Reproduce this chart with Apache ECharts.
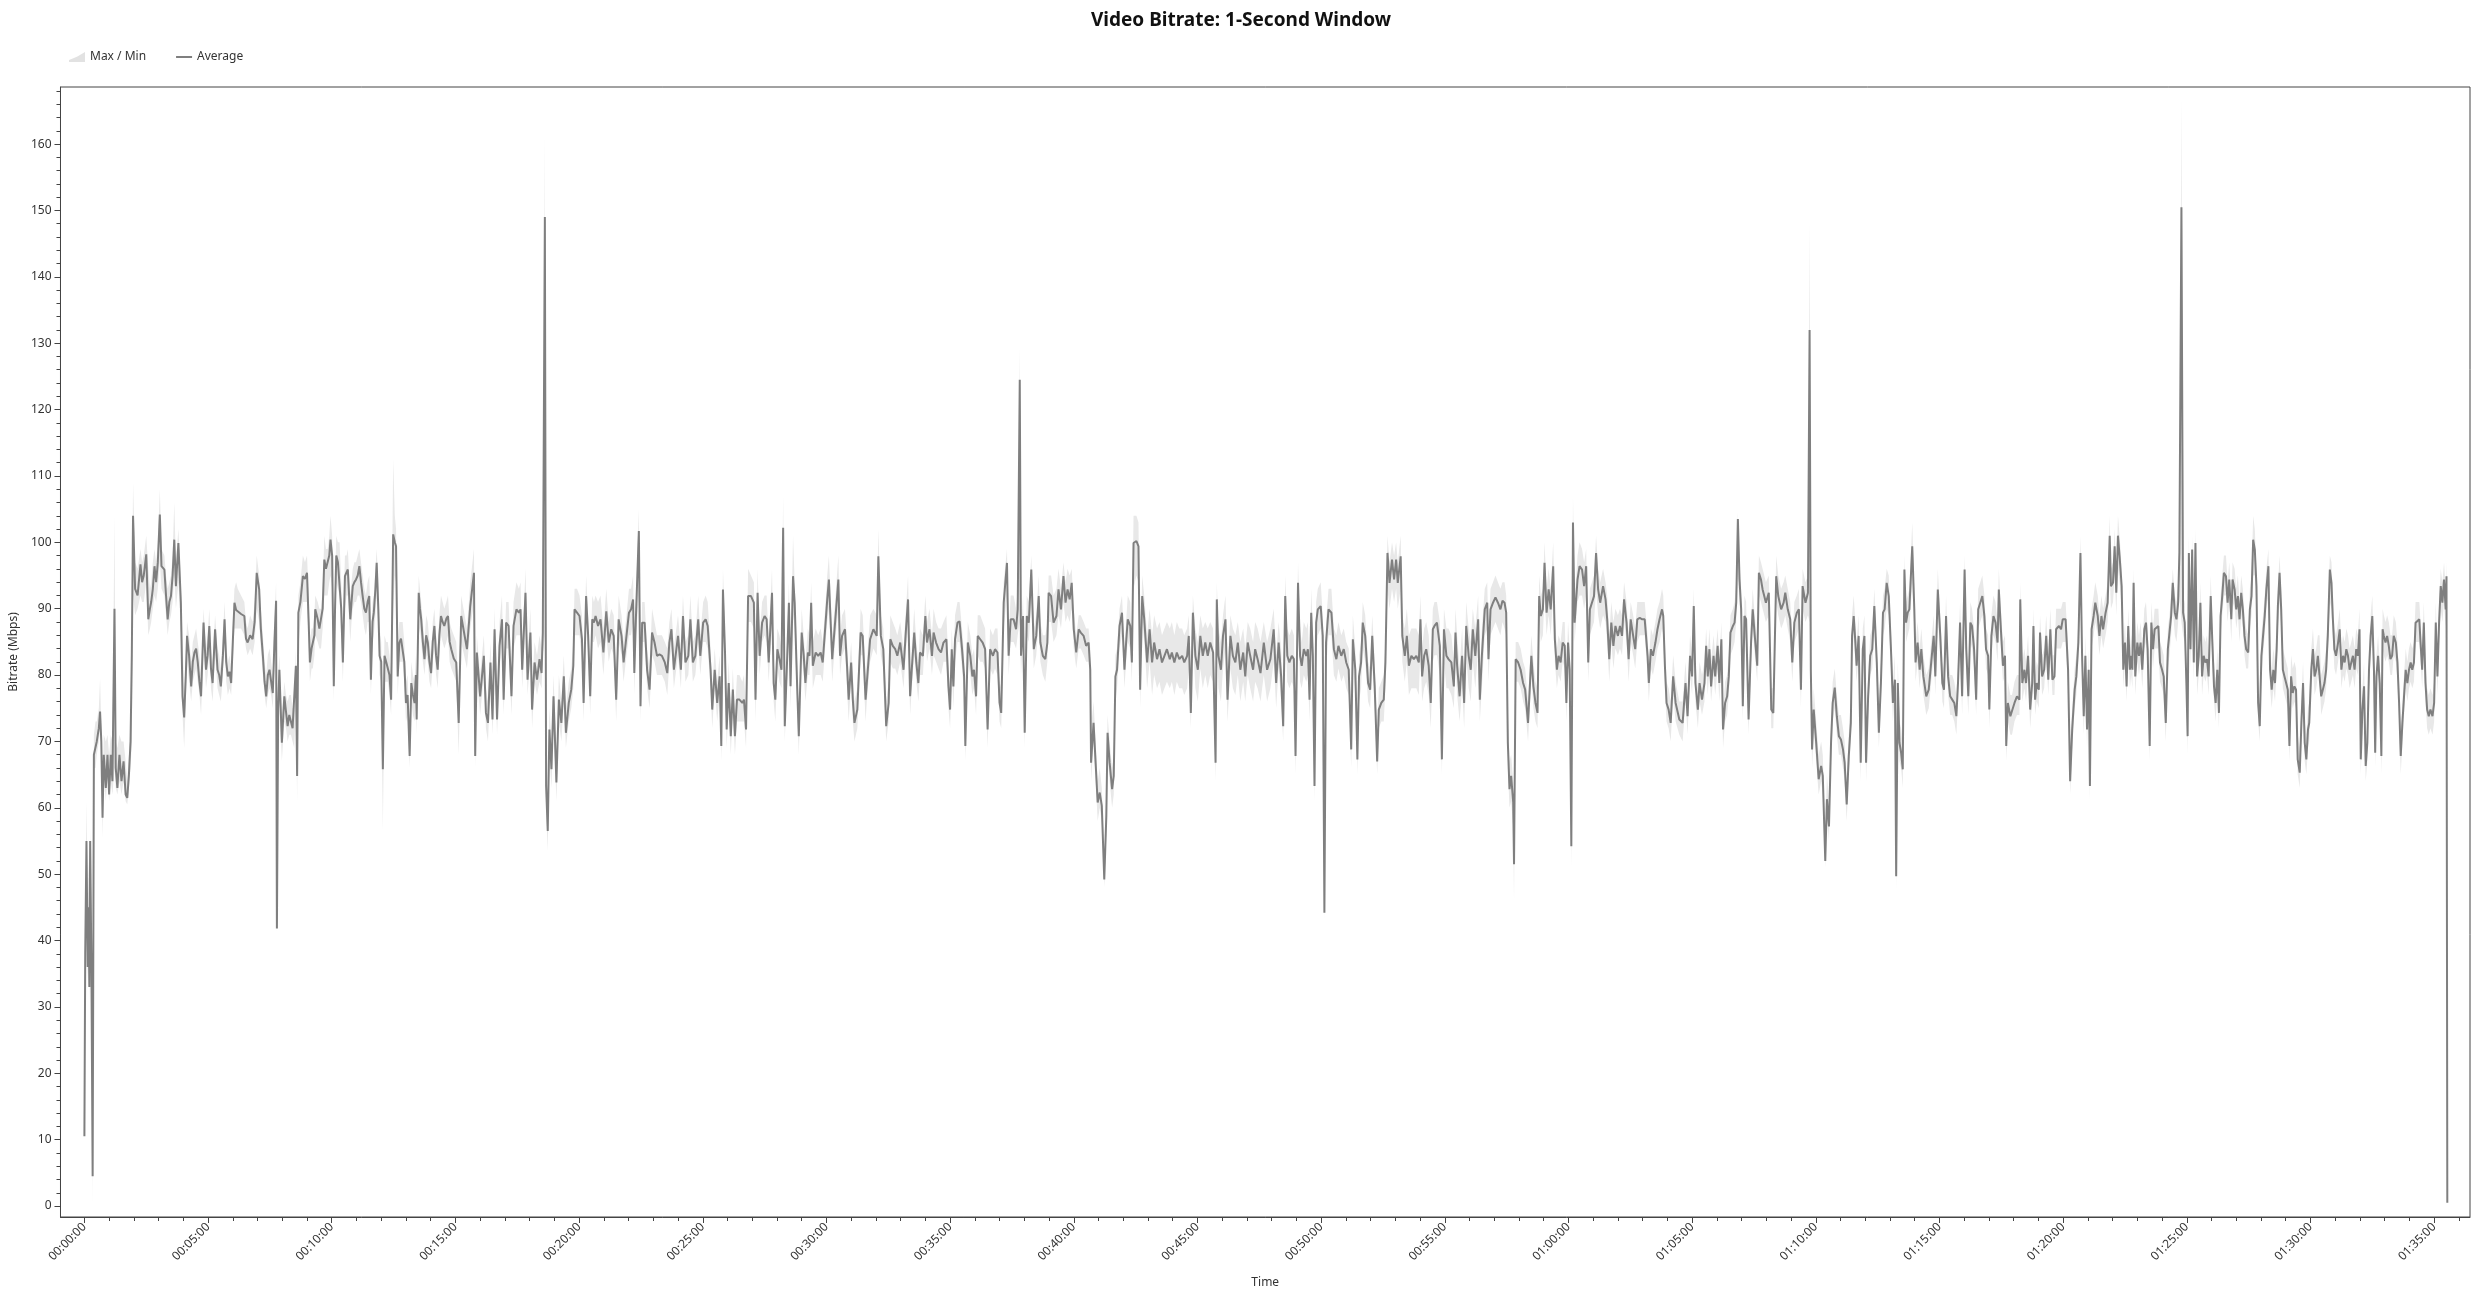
<!DOCTYPE html>
<html>
<head>
<meta charset="utf-8">
<script src="https://cdn.jsdelivr.net/npm/echarts@6/dist/echarts.min.js"></script>
<style>
html,body{margin:0;padding:0;background:#ffffff;}
#chart{width:2482px;height:1295px;}
</style>
</head>
<body>
<div id="chart"></div>
<script>
// ---- data: elapsed seconds, 1-second-window average, and the max / min band ----
const seconds = [
0,2,5,8,10,12,14,17,20,23, 27,30,35,38,41,44,47,52,56,60, 64,68,73,76,80,85,90,95,100,104,
108,112,115,118,123,129,136,140,144,150, 155,159,162,166,170,174,178,183,187,194, 198,202,206,210,214,218,222,228,234,238,
242,246,249,254,259,263,267,271,275,279, 283,289,295,299,303,307,311,317,323,327, 331,336,340,344,348,352,356,360,364,368,
372,380,388,392,396,402,408,413,418,424, 428,433,437,441,445,449,453,457,461,465, 467,470,473,479,485,489,493,497,501,505,
509,513,516,519,524,530,535,540,544,547, 551,554,558,560,566,570,574,578,582,586, 590,594,597,601,605,608,611,615,619,623,
627,632,636,639,645,648,651,655,659,663, 667,671,675,679,683,687,691,695,699,702, 706,709,713,716,720,724,728,732,736,740,
744,749,753,756,760,764,768,772,776,780, 784,789,793,797,801,804,806,811,814,817, 821,825,829,833,837,841,845,849,853,857,
861,865,869,873,878,882,886,890,896,902, 908,914,928,936,945,948,952,960,969,974, 979,985,990,995,1001,1007,1013,1017,1023,1029,
1036,1041,1048,1054,1058,1062,1070,1075,1082,1086, 1092,1098,1104,1109,1112,1117,1120,1124,1128,1133, 1138,1145,1151,1157,1163,1168,1175,1181,1186,1189,
1195,1201,1207,1211,1217,1222,1227,1232,1236,1240, 1246,1252,1259,1266,1272,1278,1284,1290,1296,1303, 1308,1315,1321,1326,1331,1334,1338,1345,1349,1353,
1359,1365,1371,1377,1383,1389,1395,1401,1408,1414, 1419,1424,1430,1434,1440,1447,1452,1458,1465,1470, 1476,1482,1489,1494,1501,1507,1512,1519,1523,1529,
1535,1541,1545,1549,1554,1558,1563,1568,1573,1578, 1583,1589,1596,1600,1605,1610,1617,1624,1628,1633, 1638,1644,1650,1655,1660,1668,1672,1676,1681,1686,
1691,1695,1699,1705,1709,1713,1719,1723,1729,1733, 1740,1745,1749,1755,1759,1763,1767,1774,1780,1786, 1791,1798,1802,1806,1810,1814,1821,1829,1833,1838,
1845,1850,1854,1860,1864,1868,1875,1883,1888,1895,
1898,1906,1914,1922,1926,1932,1938,1945,1951,1955, 1961,1967,1972,1979,1987,1993,1998,2003,2007,2013, 2018,2023,2027,2034,2040,2044,2050,2056,2060,2066,
2072,2078,2084,2091,2096,2100,2104,2108,2112,2118, 2123,2129,2134,2137,2143,2149,2154,2158,2163,2167, 2173,2179,2185,2191,2197,2204,2209,2215,2220,2224,
2230,2238,2242,2247,2254,2260,2264,2269,2272,2277, 2281,2286,2291,2297,2303,2309,2315,2319,2325,2331, 2336,2339,2345,2351,2358,2363,2369,2375,2380,2385,
2390,2395,2400,2406,2412,2417,2424,2430,2436,2440, 2442,2448,2453,2458,2463,2468,2474,2479,2482,2487, 2493,2497,2501,2505,2511,2517,2523,2527,2531,2537,
2541,2545,2552,2557,2561,2566,2571,2578,2584,2590, 2595,2602,2608,2614,2620,2626,2633,2638,2644,2650, 2656,2663,2668,2675,2679,2684,2689,2695,2701,2707,
2713,2719,2725,2731,2738,2744,2747,2751,2757,2762, 2768,2773,2780,2786,2792,2798,2804,2811,2816,2822, 2828,2835,2840,2846,2853,2861,2869,2877,2885,2891,
2897,2903,2908,2913,2918,2923,2929,2934,2938,2944, 2949,2953,2958,2964,2968,2972,2976,2980,2984,2988, 2992,2999,3004,3008,3012,3018,3025,3031,3037,3042,
3049,3055,3061,3067,3073,3077,3083,3088,3092,3097, 3101,3107,3114,3119,3124,3130,3136,3140,3146,3152, 3156,3161,3166,3172,3177,3182,3186,3193,3197,3203,
3208,3213,3219,3225,3231,3237,3241,3245,3250,3255, 3261,3266,3271,3275,3281,3288,3293,3298,3304,3309, 3316,3322,3326,3330,3336,3342,3347,3352,3358,3363,
3368,3374,3381,3385,3390,3397,3403,3406,3411,3417, 3423,3429,3435,3440,3445,3449,3453,3457,3461,3466, 3468,3472,3478,3484,3490,3495,3502,3506,3510,3515,
3520,3525,3529,3533,3538,3542,3547,3552,3557,3563, 3567,3572,3576,3581,3586,3591,3595,3599,3603,3607, 3611,3615,3622,3627,3633,3638,3643,3648,3652,3657,
3662,3667,3672,3677,3684,3690,3694,3699,3704,3709, 3714,3720,3725,3730,3735,3741,3746,3751,3757,3762, 3767,3773,3779,3785,3792,3795,3800,3805,3811,3816,
3821,3827,3830,3834,3838,3843,3848,3854,3860,3869,
3877,3884,3889,3895,3900,3904,3908,3914,3918,3924, 3930,3934,3938,3942,3946,3952,3956,3962,3966,3971, 3975,3980,3985,3989,3993,3999,4003,4007,4011,4015,
4019,4023,4027,4031,4037,4043,4047,4052,4058,4062, 4067,4071,4075,4079,4086,4092,4097,4104,4109,4116, 4122,4126,4132,4138,4143,4148,4154,4159,4164,4168,
4175,4181,4185,4188,4191,4195,4201,4207,4213,4217, 4223,4227,4232,4237,4241,4246,4251,4256,4261,4266, 4270,4275,4280,4285,4288,4292,4296,4299,4304,4309,
4314,4318,4322,4327,4332,4337,4342,4348,4353,4358, 4363,4367,4372,4377,4383,4387,4392,4395,4399,4403, 4407,4411,4415,4419,4423,4427,4434,4439,4442,4447,
4452,4456,4461,4468,4474,4480,4486,4490,4496,4502, 4507,4511,4516,4521,4526,4531,4536,4541,4545,4550, 4555,4561,4565,4570,4575,4579,4584,4589,4594,4599,
4604,4609,4613,4618,4621,4626,4631,4636,4641,4644, 4649,4654,4659,4662,4666,4672,4676,4682,4688,4694, 4696,4701,4706,4710,4715,4720,4725,4728,4732,4736,
4741,4744,4749,4754,4759,4764,4769,4774,4779,4783, 4790,4795,4799,4806,4812,4817,4822,4828,4832,4837,
4842,4846,4850,4854,4858,4862,4865,4869,4874,4878, 4884,4888,4893,4897,4903,4908,4913,4916,4921,4925, 4929,4933,4937,4942,4946,4950,4954,4958,4962,4965,
4968,4971,4975,4980,4984,4988,4992,4997,5001,5005, 5010,5014,5018,5022,5026,5031,5035,5040,5044,5049, 5054,5058,5062,5066,5071,5075,5079,5082,5087,5091,
5095,5099,5102,5105,5109,5113,5117,5121,5125,5129, 5133,5137,5141,5145,5149,5153,5158,5162,5166,5170, 5174,5178,5182,5186,5190,5195,5199,5203,5208,5211,
5216,5220,5224,5228,5232,5236,5240,5244,5249,5253, 5257,5261,5265,5269,5273,5277,5281,5285,5289,5293, 5298,5302,5306,5310,5314,5318,5321,5325,5329,5333,
5337,5341,5345,5349,5353,5357,5361,5365,5369,5374, 5378,5382,5386,5390,5394,5397,5402,5406,5410,5414, 5418,5422,5426,5430,5434,5438,5442,5447,5451,5454,
5458,5462,5467,5471,5475,5479,5483,5487,5491,5495, 5499,5503,5507,5511,5515,5519,5522,5526,5530,5534, 5538,5542,5546,5550,5554,5557,5560,5564,5568,5572,
5575,5578,5582,5586,5590,5594,5598,5602,5607,5611, 5615,5619,5623,5627,5631,5635,5639,5643,5647,5651, 5655,5659,5664,5667,5671,5675,5679,5683,5687,5691,
5696,5700,5704,5708,5712,5716,5720,5724,5728,5730, 5732
];

const average = [
10.5,38,55,36,45,33,55,36,4.5,68, 68,70,72,74.5,70,58.5,68,63,68,62, 68,64,90,66,63,68,64,67,62,61.5,
65,70,83,104,93,92,96.7,94,95,98.2, 88.4,90,91,93,96.4,94,96.9,104.2,96.4,95.9, 92,88.4,91,91.9,95,100.4,93.4,99.9,90.9,76.8,
73.6,80,85.9,82.9,78.3,82,83.4,84,81.9,79, 76.8,87.9,80.8,83,87.4,81,78.8,86.9,80.8,80, 78.3,83,88.4,82,79.8,80.5,78.8,85,90.9,89.8,
89.6,89.2,88.9,85.5,84.9,86,85.4,88,95.4,92.9, 87,82.9,79,76.8,80,80.8,79,77.3,85,91.2, 41.8,75,80.8,69.8,76.8,74.5,72.3,74,73.8,72,
71.8,81.4,64.8,89.4,91,94.9,94.5,95.4,88,81.9, 84,83.9,86,89.9,88.4,87,86.9,90,97.4,96, 95.9,98,100.4,98,78.3,90,98,97,96.9,90,
81.9,94.9,95.5,95.9,88.4,91,93.4,94,94.4,95, 96.4,94,91.9,90,89.4,91,91.9,79.3,88,89.4, 93,96.9,90,82.9,82,65.8,82.9,82,81.9,80,
76.3,101.2,100,99.4,79.8,84.9,85.5,85.4,82,75.8, 77,67.8,78.8,77,75.8,80,73.3,92.4,90,88.4, 85,82.4,86,84.9,82,80.3,85,87.4,83,80.8,
86,88.9,88,87.4,88.5,88.9,85,83.9,82.5,81.9, 72.8,88.9,83.9,90.4,95.4,67.8,83.4,76.8,82.9,74.3, 72.8,81.9,73.3,86.9,73.3,84.4,88.4,76.3,87.9,87.4,
76.8,87.4,89.9,89.4,89.9,80.8,92.4,79.3,86.4,74.8, 81.9,79.3,82.4,80.3,86.4,149,63.3,56.5,71.8,65.8, 76.8,63.8,76.3,72.8,79.8,71.3,75.8,77.8,81.4,89.9,
89.4,88.9,85.4,75.8,91.9,85.9,76.8,88.4,87.9,88.9, 87.4,88.4,83.4,89.6,84.9,86.9,85.9,76.3,88.4,85.9, 81.9,85.9,89.4,89.9,91.4,80.3,88.9,101.7,75.3,87.9,
87.9,80.8,77.8,86.4,84.9,82.9,83.1,82.9,81.9,80.3, 84.9,86.9,80.8,82.9,85.9,80.8,88.9,81.9,82.9,88.4, 81.9,82.9,88.4,82.9,87.9,88.4,87.4,80.8,74.8,80.8,
75.8,79.8,69.3,92.9,83.4,71.8,78.8,70.8,77.8,70.8, 76.3,76.3,75.8,76.3,71.8,91.9,91.9,90.9,76.3,92.4, 82.9,87.9,88.9,88.4,81.9,92.4,78.8,76.3,83.9,82.4,
80.8,102.2,72.3,82.9,90.9,78.3,94.9,90.9,78.3,70.8, 86.4,82.9,78.8,83.4,82.9,90.9,81.4,83.4,82.9,83.4, 81.9,87.9,91.4,94.4,88.4,82.4,87.9,94.4,82.9,85.9,
86.9,81.4,76.3,81.9,76.3,72.8,74.8,86.4,85.9,76.3,
78.8,85.4,86.9,85.9,97.9,85.9,83.9,72.3,75.8,85.4, 84.4,83.9,82.9,84.9,80.8,86.9,91.4,76.8,80.8,86.4, 81.9,78.8,83.4,82.9,88.9,84.9,86.9,82.9,86.4,84.9,
83.9,83.4,84.9,85.4,78.3,74.8,83.9,78.3,85.4,87.9, 88.1,83.9,79.8,69.3,84.9,82.9,79.8,80.8,76.8,85.9, 85.4,84.9,83.9,71.8,83.9,82.9,83.9,83.4,75.8,74.3,
90.9,96.9,82.9,88.4,88.4,86.9,89.9,124.5,82.9,88.9, 71.3,88.9,87.9,95.9,83.9,85.9,91.9,84.9,82.9,82.4, 84.9,92.4,91.9,87.9,88.9,92.9,89.9,94.9,90.9,92.9,
91.4,93.9,86.9,83.4,86.9,86.4,85.9,84.4,84.9,80.8, 66.8,72.8,66.8,60.8,62.3,60.3,49.2,58.8,71.3,66.8, 62.8,64.8,79.8,80.8,87.4,89.4,80.8,84.9,88.4,87.4,
81.9,99.9,100.2,99.4,77.8,91.9,88.4,81.9,86.9,81.9, 84.9,82.4,83.9,81.9,82.9,83.9,82.4,83.4,81.9,83.4, 82.4,82.9,81.9,82.9,85.9,74.3,89.4,82.9,80.8,85.9,
82.9,84.9,82.9,84.9,83.4,66.8,91.4,82.9,80.8,85.9, 88.4,76.3,85.9,82.9,81.9,84.9,80.8,83.4,79.8,84.9, 82.9,80.8,83.9,82.4,80.3,84.9,80.8,82.4,86.9,78.8,
84.9,79.8,72.3,91.9,82.9,81.9,82.9,82.4,67.8,93.9, 82.9,81.4,83.9,82.9,83.9,76.3,89.4,82.9,63.3,87.9, 89.9,90.4,85.9,44.2,84.9,89.9,89.4,83.9,82.4,84.4,
82.9,83.9,81.9,80.8,68.8,85.4,80.8,67.3,79.8,81.9, 87.9,85.9,78.8,77.8,85.9,78.3,67,74.8,75.8,76.3, 81.9,98.4,93.9,97.4,94.4,97.4,93.9,97.9,85.9,82.9,
85.9,81.4,82.9,82.4,82.9,81.9,88.4,79.8,82.9,83.9, 81.4,75.8,86.9,87.4,87.9,84.4,67.3,86.9,82.9,82.4, 81.9,78.3,86.4,81.4,76.8,82.9,75.8,87.4,82.9,80.8,
86.9,82.9,88.4,76.3,82.9,89.9,90.9,82.4,89.9,90.9, 91.7,90.9,89.9,91.2,90.9,89.4,69.8,62.8,64.8,60.8, 51.5,82.4,81.9,80.8,78.8,77.8,72.8,77.8,82.9,78.3,
75.8,74.3,91.9,88.9,89.9,96.9,89.4,92.9,89.9,96.4, 85.4,80.8,82.9,81.9,84.9,84.4,75.8,84.9,80.8,54.2, 103,87.9,94.4,96.4,95.9,93.4,96.4,81.9,89.9,90.9,
91.9,98.4,92.9,90.9,93.4,91.4,88.4,82.4,87.9,84.4, 87.4,85.9,87.4,85.9,91.4,87.9,82.4,88.4,85.9,83.9, 88.4,88.6,88.4,88.4,82.9,78.8,83.9,82.9,84.9,86.9,
88.4,89.9,88.9,81.4,75.8,74.8,72.8,79.8,75.8,73.3,
72.8,78.8,73.8,82.9,79.8,90.4,78.8,74.8,78.8,76.3, 78.8,84.4,79.8,83.9,78.3,82.9,79.8,84.4,78.8,85.4, 71.8,75.8,76.8,79.8,86.4,87.4,87.9,90.9,103.5,94.4,
89.9,75.3,88.9,88.4,73.3,84.9,89.9,85.9,81.4,95.4, 94.4,92.9,91.9,90.9,92.4,74.8,74.3,94.9,91.9,89.9, 90.9,92.4,89.9,88.4,81.9,87.9,89.4,89.9,77.8,93.4,
90.9,92.4,132,80.8,68.8,74.8,69.8,64.3,66.3,64.8, 52,61.3,57.2,69.8,75.8,78.1,73.8,70.8,70.3,68.8, 66.8,60.5,67.8,72.8,85.9,88.9,84.9,81.4,85.9,66.8,
83.9,85.9,66.8,76.8,82.9,83.9,90.4,81.9,71.3,78.8, 89.4,89.9,93.9,91.9,82.9,75.8,79.3,49.7,78.8,69.8, 68.3,65.8,95.9,87.9,89.4,89.9,99.4,89.9,81.9,84.9,
80.8,83.9,79.8,76.8,77.8,81.9,85.9,79.8,92.9,85.9, 78.8,77.8,88.9,79.8,76.8,76.3,75.8,73.8,78.8,87.9, 76.8,95.9,83.9,76.8,87.9,87.4,83.9,76.3,89.9,90.9,
91.9,88.9,83.9,82.9,74.8,85.9,88.9,87.9,84.9,92.9, 86.9,81.4,82.9,69.3,75.8,73.8,73.8,75.8,76.8,76.3, 91.4,78.8,80.8,78.8,82.9,74.8,78.8,87.4,76.3,78.8,
77.8,86.4,79.8,80.8,85.9,79.3,86.9,79.3,79.8,86.9, 87.4,86.9,88.4,88.4,80.8,64,71.8,77.8,79.8,84.9,
98.4,82.9,73.8,82.9,71.8,80.8,63.3,86.9,88.9,90.9, 88.9,85.9,88.9,86.9,89.4,90.9,101,93.4,93.9,99.4, 92.4,101,97.9,93.4,80.8,84.9,78.3,87.4,80.8,82.9,
80.8,93.9,79.8,84.9,82.9,84.9,80.8,86.9,87.9,83.9, 69.3,87.9,83.9,86.9,86.9,87.4,81.9,80.8,79.8,72.8, 83.9,86.4,88.9,93.9,89.4,88.4,90.9,98.4,150.5,89.4,
87.9,78.8,70.8,98.4,83.9,98.9,81.9,99.9,79.8,82.9, 90.9,79.8,82.9,81.9,82.4,79.8,91.9,84.9,78.3,75.8, 80.8,74.3,88.9,91.9,95.4,94.9,90.9,94.4,88.4,94.4,
92.9,89.9,91.9,88.4,92.4,89.9,85.9,83.9,83.4,89.9, 91.9,100.4,98.9,93.4,75.8,72.3,82.9,85.9,88.9,92.9, 96.4,80.8,77.8,80.8,78.8,83.9,90.4,95.4,89.9,80.8,
79.8,78.8,77.8,69.3,79.8,77.3,78.3,77.8,67.3,65.3, 72.8,78.8,69.8,67.3,71.8,72.8,80.8,83.9,79.8,80.8, 82.9,82.9,76.8,77.8,78.8,80.8,85.9,95.9,93.9,88.9,
83.9,82.9,84.9,86.9,80.8,82.9,81.9,83.9,82.9,80.8, 81.9,82.9,80.8,83.9,82.9,86.9,67.3,74.8,78.3,66.3, 69.8,80.8,85.9,88.9,80.8,68.3,79.8,82.9,78.8,67.8,
86.9,85.9,84.9,85.9,84.4,82.4,82.9,85.9,84.9,81.9, 75.8,67.8,72.8,76.8,80.8,78.8,80.8,81.9,80.8,81.9, 87.9,87.9,88.4,84.9,80.8,87.9,78.8,74.8,73.8,74.8,
73.8,75.8,87.9,79.8,87.9,93.4,90.9,94.4,89.9,94.9, 0.5
];

const bandLow = [
9,30,45,34,38,31,50,33,0,66, 66,68,70,72,68,55.5,65,61,65,61, 64,62,66,63,62,64,62,64,61,60.5,
63,66,70,92,89,90,92,91,91,94, 86,87,88,90,92,91,93,97,93,92, 89,86,88,89,91,95,90,94,87,74,
69,76,82,79,76,79,80,81,79,77, 74,84,78,80,84,78,76,83,78,77, 76,80,85,79,77,78,77,82,87,87,
87,87,86,84,83,84,83,85,90,88, 84,80,77,75,77,78,77,75,81,86, 41,72,76,67,73,72,70,71,71,70,
69,76,61,84,88,91,91,91,85,79, 81,81,83,86,85,84,84,87,92,92, 92,94,95,93,76,86,94,93,92,86,
79,90,92,92,85,88,90,91,91,92, 92,91,89,87,86,88,88,77,85,86, 89,92,87,80,79,56.5,79,79,79,77,
74,90,95,94,77,82,82,82,79,73, 74,66,76,74,73,77,71,86,87,85, 82,80,83,82,79,78,82,84,80,78,
83,86,85,84,85,86,82,81,80,79, 68,85,81,87,91,66,80,74,80,72, 70,79,71,83,71,81,85,74,84,84,
74,84,86,86,86,78,88,77,83,72, 79,77,79,78,83,86,60,53.5,68,63, 73,61,73,70,76,69,73,75,78,86,
86,86,82,73,88,83,74,85,85,86, 84,85,80,86,82,84,83,73,85,83, 79,83,86,86,88,77,86,92,73,85,
85,78,75,83,82,80,80,80,79,77, 82,84,78,80,83,78,86,79,80,85, 79,80,85,80,85,85,84,78,72,78,
73,77,67,88,80,69,76,68,75,68, 73,73,73,73,69,88,88,87,73,88, 80,85,86,85,79,88,76,73,81,79,
78,90,70,80,87,75,89,87,75,68, 83,80,76,80,80,87,78,80,80,80, 79,85,88,90,85,79,85,90,80,83,
84,78,73,79,73,70,72,83,83,73,
76,82,84,83,90,83,81,70,73,82, 81,81,80,82,78,84,87,74,78,83, 79,76,80,80,86,82,84,80,83,82,
81,80,82,82,75,72,81,75,82,85, 85,81,77,67,82,80,77,78,74,83, 82,82,81,69,81,80,81,80,73,72,
87,92,80,85,85,84,86,88,80,86, 69,86,85,91,81,83,88,82,80,79, 82,88,88,85,86,89,87,91,88,89,
88,90,84,81,84,84,83,82,82,78, 64,70,64,58,60,58,48,56,68,64, 60,62,76,78,84,86,78,82,85,84,
79,93,95,94,75,88,85,78,82,77, 80,78,79,77,78,79,78,79,77,79, 78,78,77,78,81,72,85,78,76,81,
78,80,78,80,79,64,86,78,76,81, 84,73,81,78,77,80,76,79,76,80, 78,76,79,78,76,80,76,78,82,75,
81,76,70,87,79,78,79,78,65,88, 79,78,80,79,80,73,85,79,61,84, 86,87,82,43,81,86,86,80,79,81,
79,80,78,77,66,82,77,65,76,78, 84,82,76,75,82,75,65,72,73,73, 78,93,90,93,91,93,90,93,82,79,
82,77,78,78,78,77,84,76,78,79, 77,72,82,83,83,80,65,82,78,78, 77,75,82,77,73,78,72,83,78,76,
82,78,84,73,78,86,87,79,86,87, 88,87,86,88,87,86,66,60,61,57, 46,79,79,78,76,75,70,75,80,75,
73,72,88,85,86,92,86,89,86,92, 82,78,80,79,82,81,73,82,78,51, 96,85,91,92,92,90,92,79,86,87,
88,93,89,87,89,88,85,79,85,81, 84,83,84,83,88,85,79,85,83,81, 85,86,86,86,80,76,81,80,82,84,
85,87,86,78,73,72,70,77,73,71,
70,76,71,80,77,86,76,72,76,74, 76,81,77,81,76,80,77,81,76,82, 69,73,74,77,83,84,85,88,95,91,
87,73,86,85,71,82,87,83,79,92, 91,90,89,88,89,72,72,91,89,87, 88,89,87,85,79,85,86,87,75,90,
88,89,88,77,66,72,67,62,64,62, 51,59,55,67,73,75,71,68,68,66, 64,58,65,70,82,86,82,79,83,64,
81,83,64,74,80,81,87,79,69,76, 86,87,90,89,80,73,77,47.5,76,67, 66,63,91,85,86,87,94,87,79,82,
78,81,77,74,75,79,83,77,89,83, 76,75,86,77,74,74,73,71,76,85, 74,91,81,74,85,84,81,74,87,88,
89,86,81,80,72,83,86,85,82,89, 84,79,80,67,73,71,71,73,74,74, 87,76,78,76,80,72,76,84,74,76,
75,83,77,78,83,77,84,77,77,84, 84,84,85,85,78,62,69,75,77,82,
92,80,71,80,69,78,61,84,86,88, 86,83,86,84,86,88,95,90,91,95, 89,96,94,90,78,82,76,84,78,80,
78,89,77,82,80,82,78,84,85,81, 67,85,81,84,84,84,79,78,77,70, 81,83,86,90,86,85,88,92,88,86,
85,76,68,92,81,93,79,94,77,80, 88,77,80,79,80,77,88,82,76,73, 78,72,86,89,92,92,88,91,85,91,
90,87,89,85,89,87,83,81,81,87, 89,95,95,90,73,70,80,83,86,90, 92,78,75,78,76,81,87,91,87,78,
77,76,75,67,77,75,76,75,65,63, 70,76,67,65,69,70,78,81,77,78, 80,80,74,75,76,78,83,91,90,86,
81,80,82,84,78,80,79,81,80,78, 79,80,78,81,80,84,65,72,76,64, 67,78,83,86,78,66,77,80,76,65,
84,83,82,83,82,80,80,83,82,79, 73,65,70,74,78,76,78,79,78,79, 85,85,85,82,78,85,76,72,71,72,
71,73,85,77,85,90,88,91,87,91, 0
];

const bandHigh = [
12,40,61,48,52,40,57,45,8,71, 73,73,75,79.5,72,62,71,70,71,68, 71,70,104,70,69,71,70,70,67,64,
68,72,86,109,97,96,99,97,98,101, 96,93,94,97,99,97,100,108,99,98, 95,93,94,95,98,106,97,102,94,86,
77,83,88,86,82,85,86,87,85,83, 80,90,84,86,90,84,82,89,84,83, 81,86,91,85,82,83,81,88,93,94,
93,92,91,88,87,89,88,91,98,95, 90,86,82,80,83,84,82,80,88,94, 75,80,83,74,79,77,76,77,77,75,
75,84,70,92,94,98,97,98,92,85, 87,87,89,92,91,90,90,93,101,99, 99,101,104,101,86,94,101,100,100,94,
86,98,98,99,92,94,96,97,97,98, 99,97,95,93,92,94,95,86,91,92, 96,99,94,87,85,72,86,85,85,83,
80,112.5,104,102,85,88,88,88,85,79, 80,72,82,80,79,83,77,95,93,91, 88,85,89,88,85,83,88,90,86,84,
89,92,91,90,91,92,88,87,86,85, 77,92,87,94,99,72,86,80,86,78, 76,85,77,90,77,88,92,80,91,91,
80,91,94,93,94,84,96,83,90,78, 85,83,86,84,90,161.5,70,62,75,70, 80,68,80,76,83,75,79,81,85,93,
93,92,89,80,95,89,81,92,91,92, 91,92,87,93,88,90,89,80,92,89, 85,89,93,93,95,84,92,105,80,91,
91,84,81,90,88,86,86,86,85,84, 88,90,84,86,89,84,92,85,86,92, 85,86,92,86,91,92,91,84,78,84,
79,83,73,96,87,75,82,74,81,74, 80,80,79,80,75,96,95,94,80,96, 86,91,92,92,85,96,82,80,87,86,
84,107,76,86,94,82,101,94,82,74, 90,86,82,87,86,94,85,87,86,87, 85,91,95,98,92,86,91,98,86,89,
90,85,80,85,80,76,78,90,89,80,
82,89,90,89,102,89,87,76,79,89, 88,87,86,88,84,90,95,80,84,90, 85,82,87,86,92,88,90,86,90,88,
87,87,88,89,82,78,87,82,89,91, 91,87,83,73,88,86,83,84,80,89, 89,88,87,75,87,86,87,87,79,78,
94,99,86,92,92,90,93,129.5,86,92, 75,92,91,98,87,89,95,88,86,86, 88,95,95,92,93,96,93,97,94,96,
95,96,90,86,89,89,88,87,87,84, 72,76,70,64,66,63,53,62,74,70, 66,68,83,84,90,92,84,88,92,91,
85,104,104,103,82,95,92,86,90,86, 89,87,88,86,87,88,87,88,86,88, 87,87,86,87,89,79,92,87,85,89,
87,88,87,88,87,72,94,87,85,89, 92,81,89,87,86,88,85,87,84,88, 87,85,88,87,85,88,85,87,90,83,
88,84,77,95,87,86,87,86,72,97, 87,85,88,87,88,80,93,87,68,91, 93,94,89,60,88,93,93,87,86,88,
86,87,85,84,73,89,84,71,83,85, 91,89,82,81,89,82,71,78,79,80, 85,101,97,100,98,100,97,101,89,87,
90,86,87,87,87,86,92,84,87,88, 86,80,90,91,91,88,72,90,87,87, 86,82,90,86,81,87,80,91,87,85,
90,87,92,80,87,93,94,86,93,94, 95,94,93,94,94,92,74,67,68,64, 56,85,85,84,82,81,76,81,86,82,
79,78,95,92,93,100,93,96,93,100, 89,84,86,85,88,88,79,88,84,60, 107,91,98,100,99,97,99,86,93,94,
95,101,96,94,96,94,92,86,91,88, 90,89,90,89,94,91,86,91,89,87, 91,91,91,91,86,82,87,86,88,90,
91,93,92,85,79,78,76,83,79,76,
76,82,77,86,83,93,82,78,82,80, 82,87,83,87,82,86,83,87,82,88, 75,79,80,83,89,90,91,94,104.5,97,
93,79,92,91,77,88,93,89,85,98, 97,96,95,94,95,78,78,98,95,93, 94,95,93,91,85,91,92,93,81,96,
94,95,148.5,84,72,78,73,68,70,68, 56,65,61,73,79,81,77,74,74,72, 70,64,71,76,89,92,88,85,89,70,
87,89,70,80,86,87,93,85,75,82, 92,93,96,95,86,79,83,54,82,73, 72,69,98,91,92,93,103,93,85,88,
84,87,83,80,81,85,89,83,96,89, 82,81,92,83,80,80,79,77,82,91, 80,98,87,80,91,90,87,80,93,94,
95,92,87,86,78,89,92,91,88,96, 90,85,86,73,79,77,77,79,80,80, 94,82,84,82,86,78,82,90,80,82,
81,89,83,84,89,83,90,83,83,90, 90,90,91,91,84,70,75,81,83,88,
101,86,77,86,75,84,67,90,92,94, 92,89,92,90,92,94,104,96,97,102, 95,104,101,96,84,88,82,90,84,86,
84,96,83,88,86,88,84,90,91,87, 73,91,87,90,90,90,85,84,83,76, 87,89,92,96,92,91,94,101,167,92,
91,82,74,101,87,101,85,102,83,86, 94,83,86,85,86,83,95,88,82,79, 84,78,92,95,98,98,94,97,91,97,
96,93,95,91,95,93,89,87,86,93, 95,104,102,96,79,76,86,89,92,96, 99,84,81,84,82,87,93,98,93,84,
83,82,81,73,83,81,82,81,71,69, 76,82,73,71,75,76,84,87,83,84, 86,86,80,81,82,84,89,98,97,92,
87,86,88,90,84,86,85,87,86,84, 85,86,84,87,86,90,71,78,82,70, 73,84,89,92,84,72,83,86,82,71,
90,89,88,89,88,86,86,89,88,85, 79,71,76,80,84,82,84,85,84,85, 91,91,91,88,84,91,82,78,77,78,
77,79,91,83,91,96,94,97,93,97, 1
];

// axis tick positions (seconds) and labels
const majorTickSeconds = [0,300,600,900,1200,1500,1800,2100,2400,2700,3000,3300,3600,3900,4200,4500,4800,5100,5400,5700];
const minorTickSeconds = Array.from({length: 97}, (_, i) => i * 60);
const yLabelValues = [0,10,20,30,40,50,60,70,80,90,100,110,120,130,140,150,160];
const yMinorValues = Array.from({length: 85}, (_, i) => i * 2);

// ---- chart ----
const n = seconds.length;
if (average.length !== n || bandLow.length !== n || bandHigh.length !== n) {
  throw new Error('length mismatch: ' + [n, average.length, bandLow.length, bandHigh.length].join(','));
}
const pad = v => (v < 10 ? '0' : '') + v;
const fmt = s => pad(Math.floor(s / 3600)) + ':' + pad(Math.floor((s % 3600) / 60)) + ':' + pad(Math.round(s % 60));

const FONT = "'Noto Sans', 'Open Sans', sans-serif";
const X_MIN = -58, X_MAX = 5787, Y_MIN = -1.65, Y_MAX = 168.6;
const AXIS_COLOR = '#444';

const avgData = seconds.map((t, i) => [t, average[i]]);

const chart = echarts.init(document.getElementById('chart'), null, {renderer: 'canvas'});
chart.setOption({
  animation: false,
  backgroundColor: '#ffffff',
  title: {
    text: 'Video Bitrate: 1-Second Window',
    left: 'center', top: 6,
    textStyle: {fontFamily: FONT, fontSize: 19, fontWeight: 'bold', color: '#111'}
  },
  legend: {
    left: 64, top: 46,
    itemWidth: 16, itemHeight: 10, itemGap: 30,
    symbolKeepAspect: true,
    textStyle: {fontFamily: FONT, fontSize: 12, color: '#333'},
    data: [
      {name: 'Max / Min', icon: 'path://M0,10 L0,8 C6,6 11,3 16,0 L16,10 Z', itemStyle: {color: '#e2e2e2'}},
      {name: 'Average', icon: 'path://M0,0 L16,0 L16,2 L0,2 Z', itemStyle: {color: '#7f7f7f'}}
    ]
  },
  grid: {left: 57, right: 12, top: 87, bottom: 78, show: true, borderColor: AXIS_COLOR, borderWidth: 1, containLabel: false},
  xAxis: [
    {
      type: 'value', min: X_MIN, max: X_MAX, position: 'bottom',
      axisLine: {show: true, onZero: false, lineStyle: {color: AXIS_COLOR, width: 1}},
      axisTick: {show: true, customValues: majorTickSeconds, length: 6, lineStyle: {color: AXIS_COLOR}},
      axisLabel: {customValues: majorTickSeconds, formatter: fmt, rotate: 45, margin: 8, fontFamily: FONT, fontSize: 12, color: '#333'},
      splitLine: {show: false},
      name: 'Time', nameLocation: 'middle', nameGap: 60,
      nameTextStyle: {fontFamily: FONT, fontSize: 12, color: '#333'}
    },
    {
      type: 'value', min: X_MIN, max: X_MAX, position: 'bottom',
      axisLine: {show: false, onZero: false},
      axisTick: {show: true, customValues: minorTickSeconds, length: 4, lineStyle: {color: AXIS_COLOR}},
      axisLabel: {show: false},
      splitLine: {show: false}
    }
  ],
  yAxis: [
    {
      type: 'value', min: Y_MIN, max: Y_MAX, position: 'left',
      axisLine: {show: true, onZero: false, lineStyle: {color: AXIS_COLOR, width: 1}},
      axisTick: {show: true, customValues: yLabelValues, length: 6, lineStyle: {color: AXIS_COLOR}},
      axisLabel: {customValues: yLabelValues, margin: 9, fontFamily: FONT, fontSize: 12, color: '#333'},
      splitLine: {show: false},
      name: 'Bitrate (Mbps)', nameLocation: 'middle', nameGap: 36, nameRotate: 90,
      nameTextStyle: {fontFamily: FONT, fontSize: 12, color: '#333'}
    },
    {
      type: 'value', min: Y_MIN, max: Y_MAX, position: 'left',
      axisLine: {show: false, onZero: false},
      axisTick: {show: true, customValues: yMinorValues, length: 4, lineStyle: {color: AXIS_COLOR}},
      axisLabel: {show: false},
      splitLine: {show: false}
    }
  ],
  series: [
    {
      name: 'Max / Min',
      type: 'custom',
      xAxisIndex: 0, yAxisIndex: 0,
      silent: true,
      itemStyle: {color: '#e2e2e2'},
      data: [[seconds[0], bandLow[0]]],
      renderItem: function (params, api) {
        if (params.dataIndex !== 0) return null;
        const pts = [];
        for (let i = 0; i < n; i++) pts.push(api.coord([seconds[i], bandHigh[i]]));
        for (let i = n - 1; i >= 0; i--) pts.push(api.coord([seconds[i], bandLow[i]]));
        return {type: 'polygon', shape: {points: pts}, style: {fill: '#e8e8e8', stroke: null}};
      },
      z: 1
    },
    {
      name: 'Average',
      type: 'line',
      xAxisIndex: 0, yAxisIndex: 0,
      data: avgData,
      symbol: 'none', showSymbol: false,
      lineStyle: {color: '#7f7f7f', width: 2},
      itemStyle: {color: '#7f7f7f'},
      z: 3
    }
  ]
});
</script>
</body>
</html>
